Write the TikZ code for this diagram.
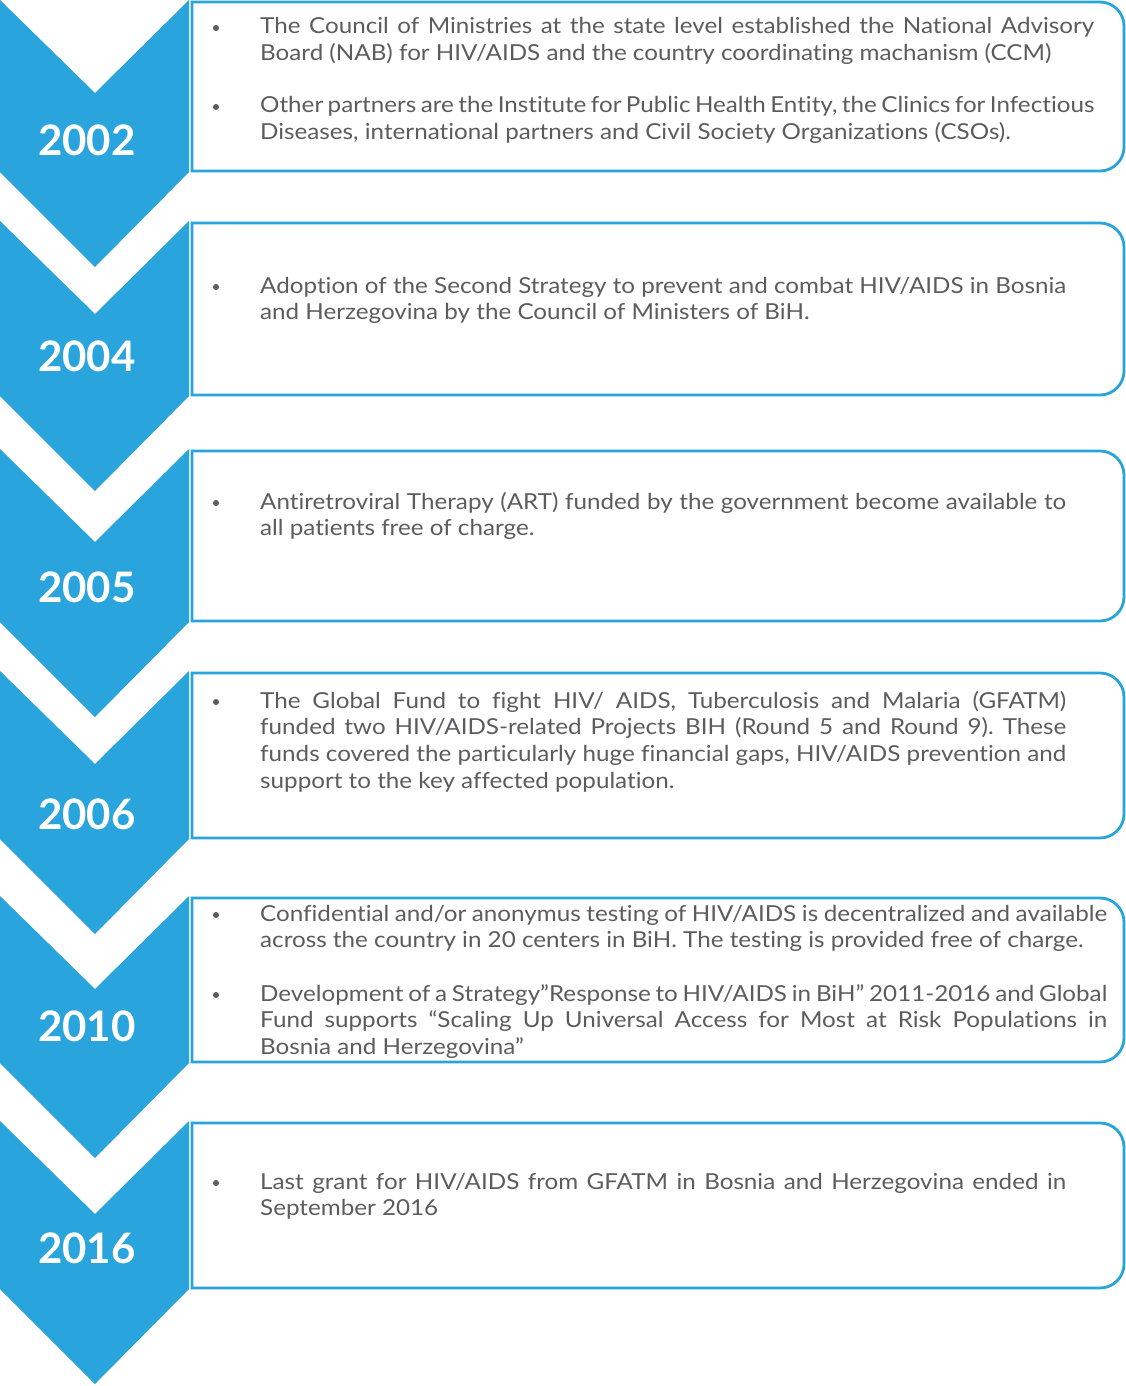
\documentclass[tikz,border=0pt]{standalone}
\usepackage{fontspec}
\setmainfont{Lato}[FakeStretch=1.1,Ligatures={NoCommon,NoContextual},Contextuals=NoAlternate]
\newfontfamily\yearfont{Lato}
\definecolor{tlblue}{RGB}{41,164,220}
\definecolor{tlgray}{RGB}{92,92,94}
\newcommand\jl[1]{\makebox[\linewidth][s]{#1}}
\newcommand\zti{t\kern0pt i}
\frenchspacing
\begin{document}
\begin{tikzpicture}[x=1pt,y=-1pt,
  chev/.style={fill=tlblue},
  boxline/.style={draw=tlblue,line width=2.8pt},
  year/.style={anchor=base west,inner sep=0pt,text=white,font=\yearfont\fontsize{42}{42}\selectfont\bfseries},
  itemtext/.style={anchor=base west,inner sep=0pt,align=justify,text=tlgray,font=\fontsize{22}{26.8}\selectfont},
  bulletdot/.style={circle,fill=tlgray,minimum size=6pt,inner sep=0pt}]
\useasboundingbox (0,0) rectangle (1126,1386);
% chevrons and boxes
\foreach \T/\B in {0/172,221/396,449/622,671/839,896/1063,1121/1289}{
  \fill[chev] (0,\T) -- (95,\T+93) -- (189,\T) -- (189,\B) -- (95,\B+95) -- (0,\B) -- cycle;
  \draw[boxline] (192,\B-1) -- (192,\T+2) [rounded corners=24pt] -- (1124,\T+2) -- (1124,\B-1) [sharp corners] -- (192,\B-1) -- cycle;
}
% years
\node[year] (y2002) at (38,155) {2002};
\node[year] (y2004) at (38,371) {2004};
\node[year] (y2005) at (38,602) {2005};
\node[year] (y2006) at (38,829) {2006};
\node[year] (y2010) at (38,1041) {2010};
\node[year] (y2016) at (38,1263) {2016};
% 2002
\node[bulletdot] (b2002a) at (216,28) {};
\node[itemtext,text width=834pt] (t2002a) at (260,34) {\jl{The Council of Ministries at the state level established the National Advisory}\\Board (NAB) for HIV/AIDS and the country coordina\zti{}ng machanism (CCM)};
\node[bulletdot] (b2002b) at (216,107) {};
\node[itemtext,text width=834pt] (t2002b) at (260,113) {\jl{Other partners are the Ins\zti{}tute for Public Health En\zti{}ty, the Clinics for Infec\zti{}ous}\\Diseases, interna\zti{}onal partners and Civil Society Organiza\zti{}ons (CSOs).};
% 2004
\node[bulletdot] (b2004) at (216,287) {};
\node[itemtext,text width=806pt] (t2004) at (260,293) {\jl{Adop\zti{}on of the Second Strategy to prevent and combat HIV/AIDS in Bosnia}\\and Herzegovina by the Council of Ministers of BiH.};
% 2005
\node[bulletdot] (b2005) at (216,503) {};
\node[itemtext,text width=806pt] (t2005) at (260,509) {\jl{An\zti{}retroviral Therapy (ART) funded by the government become available to}\\all pa\zti{}ents free of charge.};
% 2006
\node[bulletdot] (b2006) at (216,702) {};
\node[itemtext,text width=806pt] (t2006) at (260,708) {\jl{The Global Fund to fight HIV/ AIDS, Tuberculosis and Malaria (GFATM)}\\\jl{funded two HIV/AIDS-related Projects BIH (Round 5 and Round 9). These}\\\jl{funds covered the par\zti{}cularly huge financial gaps, HIV/AIDS preven\zti{}on and}\\support to the key affected popula\zti{}on.};
% 2010
\node[bulletdot] (b2010a) at (216,915) {};
\node[itemtext,text width=847pt] (t2010a) at (260,921) {\jl{Confiden\zti{}al and/or anonymus tes\zti{}ng of HIV/AIDS is decentralized and available}\\across the country in 20 centers in BiH. The tes\zti{}ng is provided free of charge.};
\node[bulletdot] (b2010b) at (216,995) {};
\node[itemtext,text width=847pt] (t2010b) at (260,1001) {\jl{Development of a Strategy”Response to HIV/AIDS in BiH” 2011-2016 and Global}\\\jl{Fund supports “Scaling Up Universal Access for Most at Risk Popula\zti{}ons in}\\Bosnia and Herzegovina”};
% 2016
\node[bulletdot] (b2016) at (216,1183) {};
\node[itemtext,text width=806pt] (t2016) at (260,1189) {\jl{Last grant for HIV/AIDS from GFATM in Bosnia and Herzegovina ended in}\\September 2016};
\end{tikzpicture}
\end{document}
